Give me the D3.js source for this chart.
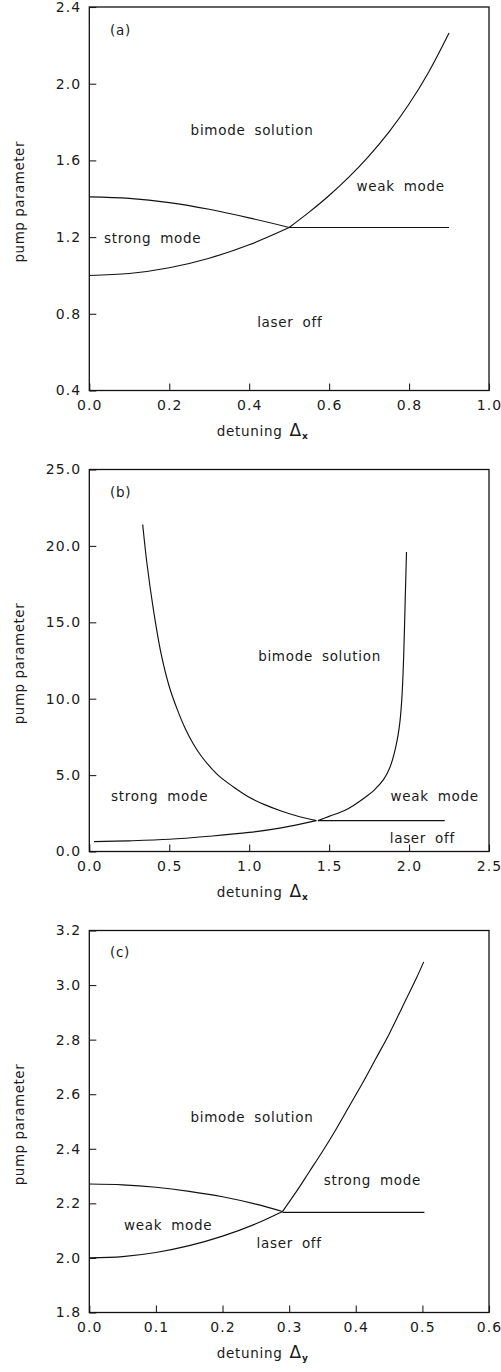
<!DOCTYPE html>
<html>
<head>
<meta charset="utf-8">
<script src="https://cdn.jsdelivr.net/npm/d3@7"></script>
<style>
body { margin: 0; background: #fff; }
svg text { font-family: "DejaVu Sans", sans-serif; fill: #1a1a1a; }
.tick text { font-size: 14px; letter-spacing: 1.1px; }
.tick line { stroke: #222; stroke-width: 1.1px; }
.note { font-size: 13.5px; letter-spacing: 0.7px; word-spacing: 4px; }
.curve { fill: none; stroke: #111; stroke-width: 1.15px; }
</style>
</head>
<body>
<div id="chart"></div>
<script>
/** DATA **/
// panel (a): detuning delta_x 0..1
var aXTicks = [0.0, 0.2, 0.4, 0.6, 0.8, 1.0];
var aYTicks = [0.4, 0.8, 1.2, 1.6, 2.0, 2.4];
var aUpper = [[0.0,1.41],[0.1,1.402],[0.2,1.38],[0.3,1.345],[0.4,1.30],[0.5,1.25]];
var aLower = [[0.0,1.0],[0.1,1.01],[0.2,1.04],[0.3,1.09],[0.4,1.16],[0.5,1.25]];
var aRight = [[0.5,1.25],[0.55,1.33],[0.6,1.417],[0.65,1.514],[0.7,1.624],[0.75,1.749],[0.8,1.894],[0.85,2.064],[0.9,2.264]];
var aFlat = [[0.5,1.25],[0.9,1.25]];

// panel (b): detuning delta_x 0..2.5
var bXTicks = [0.0, 0.5, 1.0, 1.5, 2.0, 2.5];
var bYTicks = [0, 5, 10, 15, 20, 25];
var bLeft = [[0.334,21.4],[0.36,18.9],[0.4,15.9],[0.45,12.9],[0.5,10.8],[0.55,9.3],[0.6,8.05],[0.65,7.05],[0.7,6.25],[0.8,5.05],[0.9,4.24],[1.0,3.55],[1.1,3.05],[1.2,2.65],[1.3,2.32],[1.42,2.02]];
var bLower = [[0.03,0.65],[0.25,0.7],[0.5,0.8],[0.75,1.0],[1.0,1.25],[1.2,1.55],[1.42,2.02]];
var bRight = [[1.43,2.02],[1.5,2.3],[1.6,2.7],[1.65,3.0],[1.72,3.5],[1.78,4.0],[1.84,4.7],[1.88,5.5],[1.918,6.9],[1.943,8.5],[1.957,10.4],[1.967,13.0],[1.976,16.5],[1.984,19.6]];
var bFlat = [[1.43,2.02],[2.223,2.02]];

// panel (c): detuning delta_y 0..0.6
var cXTicks = [0.0, 0.1, 0.2, 0.3, 0.4, 0.5, 0.6];
var cYTicks = [1.8, 2.0, 2.2, 2.4, 2.6, 2.8, 3.0, 3.2];
var cUpper = [[0.0,2.271],[0.05,2.268],[0.1,2.259],[0.15,2.244],[0.2,2.224],[0.25,2.197],[0.29,2.17]];
var cLower = [[0.0,2.0],[0.05,2.005],[0.1,2.02],[0.15,2.045],[0.2,2.08],[0.25,2.125],[0.29,2.17]];
var cRight = [[0.29,2.17],[0.31,2.24],[0.33,2.315],[0.35,2.39],[0.37,2.47],[0.39,2.555],[0.41,2.64],[0.43,2.73],[0.45,2.82],[0.47,2.92],[0.49,3.02],[0.502,3.085]];
var cFlat = [[0.29,2.167],[0.503,2.167]];

// region labels, in data coordinates
var aLabels = [
    {t: "(a)", x: 0.052, y: 2.254},
    {t: "bimode solution", x: 0.2535, y: 1.732},
    {t: "weak mode", x: 0.6685, y: 1.438},
    {t: "strong mode", x: 0.037, y: 1.168},
    {t: "laser off", x: 0.42, y: 0.733}
];
var bLabels = [
    {t: "(b)", x: 0.13, y: 23.2},
    {t: "bimode solution", x: 1.056, y: 12.49},
    {t: "strong mode", x: 0.136, y: 3.3},
    {t: "weak mode", x: 1.884, y: 3.3},
    {t: "laser off", x: 1.879, y: 0.58}
];
var cLabels = [
    {t: "(c)", x: 0.031, y: 3.103},
    {t: "bimode solution", x: 0.152, y: 2.499},
    {t: "strong mode", x: 0.352, y: 2.267},
    {t: "weak mode", x: 0.052, y: 2.102},
    {t: "laser off", x: 0.251, y: 2.035}
];

/** CANVAS **/
var W = 501, H = 1372;
var left = 89.3, plotW = 399.7;

var svg = d3.select("#chart").append("svg")
    .attr("width", W)
    .attr("height", H);

var line = d3.line().curve(d3.curveCatmullRom.alpha(0.5));

function drawPanel(top, plotH, xTicks, yTicks, curves, labels, sub) {
    var x = d3.scaleLinear()
        .domain([xTicks[0], xTicks[xTicks.length - 1]])
        .range([0, plotW]);
    var y = d3.scaleLinear()
        .domain([yTicks[0], yTicks[yTicks.length - 1]])
        .range([plotH, 0]);

    var g = svg.append("g")
        .attr("transform", "translate(" + left + "," + top + ")");

    // ticks point inward
    var xAxis = d3.axisBottom(x).tickValues(xTicks)
        .tickFormat(d3.format(".1f")).tickSize(-7).tickPadding(10);
    var yAxis = d3.axisLeft(y).tickValues(yTicks)
        .tickFormat(d3.format(".1f")).tickSize(-7).tickPadding(8);

    g.append("g")
        .attr("transform", "translate(0," + plotH + ")")
        .call(xAxis)
        .call(function(s) { s.select(".domain").remove(); });

    g.append("g")
        .call(yAxis)
        .call(function(s) { s.select(".domain").remove(); });

    // frame
    g.append("rect")
        .attr("width", plotW)
        .attr("height", plotH)
        .attr("fill", "none")
        .attr("stroke", "#111")
        .attr("stroke-width", 1.3);

    line.x(function(d) { return x(d[0]); })
        .y(function(d) { return y(d[1]); });

    g.selectAll(".curve")
        .data(curves)
        .enter().append("path")
        .attr("class", "curve")
        .attr("d", line);

    g.selectAll(".note")
        .data(labels)
        .enter().append("text")
        .attr("class", "note")
        .attr("x", function(d) { return x(d.x); })
        .attr("y", function(d) { return y(d.y); })
        .text(function(d) { return d.t; });

    // axis titles
    g.append("text")
        .attr("transform", "translate(" + (24 - left) + "," + (plotH / 2 + 3) + ") rotate(-90)")
        .attr("text-anchor", "middle")
        .style("font-size", "13.5px")
        .style("letter-spacing", "0.5px")
        .text("pump parameter");

    var t = g.append("text")
        .attr("x", 127.4)
        .attr("y", plotH + 45)
        .style("font-size", "13.5px")
        .style("letter-spacing", "0.7px");
    t.append("tspan").text("detuning");
    t.append("tspan").attr("dx", 7).style("font-size", "17px").style("letter-spacing", "0px").text("\u0394");
    t.append("tspan").attr("dy", 3).attr("dx", 1).style("font-size", "9px")
        .style("font-weight", "bold").text(sub);
}

drawPanel(7, 383.5, aXTicks, aYTicks, [aUpper, aLower, aRight, aFlat], aLabels, "x");
drawPanel(469.5, 382, bXTicks, bYTicks, [bLeft, bLower, bRight, bFlat], bLabels, "x");
drawPanel(930.5, 382, cXTicks, cYTicks, [cUpper, cLower, cRight, cFlat], cLabels, "y");
</script>
</body>
</html>
